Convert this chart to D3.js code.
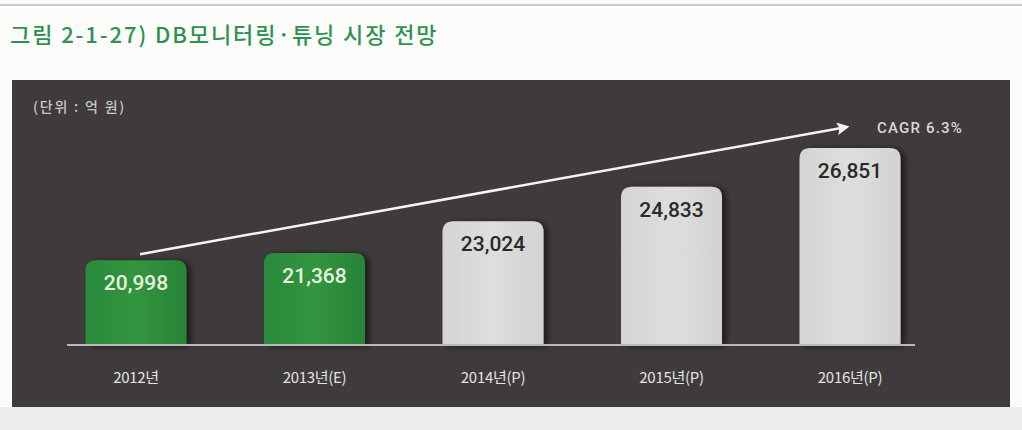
<!DOCTYPE html>
<html>
<head>
<meta charset="utf-8">
<script src="https://cdn.jsdelivr.net/npm/d3@7"></script>
<style>
  html, body { margin: 0; padding: 0; background: #f4f4f2; }
  svg { display: block; }
</style>
</head>
<body>
<div id="chart"></div>
<script>
const width = 1022;
const height = 430;

const years = ["2012년", "2013년(E)", "2014년(P)", "2015년(P)", "2016년(P)"];
const values = [20998, 21368, 23024, 24833, 26851];
const actual = [true, true, false, false, false];
const title = "그림 2-1-27) DB모니터링·튜닝 시장 전망";
const unitText = "(단위 : 억 원)";
const cagrText = "CAGR 6.3%";

const panel = { x: 12, y: 80, w: 998, h: 327 };
const baseY = 345;

const svg = d3
  .select("#chart")
  .append("svg")
  .attr("width", width)
  .attr("height", height);

const defs = svg.append("defs");

const shadow = defs.append("filter").attr("id", "shadow")
  .attr("x", "-20%").attr("y", "-20%").attr("width", "150%").attr("height", "140%");
shadow.append("feDropShadow")
  .attr("dx", 4).attr("dy", 1).attr("stdDeviation", 3)
  .attr("flood-color", "#000").attr("flood-opacity", 0.6);

const grayGrad = defs.append("linearGradient").attr("id", "grayGrad")
  .attr("x1", 0).attr("x2", 1).attr("y1", 0).attr("y2", 0);
grayGrad.append("stop").attr("offset", "0%").attr("stop-color", "#d4d4d4");
grayGrad.append("stop").attr("offset", "50%").attr("stop-color", "#dedede");
grayGrad.append("stop").attr("offset", "100%").attr("stop-color", "#d2d2d2");

const greenGrad = defs.append("linearGradient").attr("id", "greenGrad")
  .attr("x1", 0).attr("x2", 1).attr("y1", 0).attr("y2", 0);
greenGrad.append("stop").attr("offset", "0%").attr("stop-color", "#2a8a3c");
greenGrad.append("stop").attr("offset", "50%").attr("stop-color", "#32943f");
greenGrad.append("stop").attr("offset", "100%").attr("stop-color", "#288438");

defs.append("marker")
  .attr("id", "arrowHead")
  .attr("viewBox", "0 0 10 10")
  .attr("refX", 8).attr("refY", 5)
  .attr("markerWidth", 5).attr("markerHeight", 5)
  .attr("markerUnits", "strokeWidth")
  .attr("orient", "auto")
  .append("path")
  .attr("d", "M0,0 L10,5 L0,10 L2,5 Z")
  .attr("fill", "#f4f4f4");

// page background + top rule
svg.append("rect").attr("width", width).attr("height", height).attr("fill", "#fbfbfa");
svg.append("line")
  .attr("x1", 0).attr("x2", width).attr("y1", 5).attr("y2", 5)
  .attr("stroke", "#bdbdbd").attr("stroke-width", 1.5);
svg.append("rect")
  .attr("x", 0).attr("y", panel.y + panel.h).attr("width", width).attr("height", height - panel.y - panel.h)
  .attr("fill", "#ececea");

svg.append("text")
  .attr("x", 10).attr("y", 43)
  .attr("font-family", "'Noto Sans CJK KR', sans-serif")
  .attr("font-size", 22)
  .attr("font-weight", 500)
  .attr("letter-spacing", 1.9)
  .attr("fill", "#2f9150")
  .text(title);

svg.append("rect")
  .attr("x", panel.x).attr("y", panel.y).attr("width", panel.w).attr("height", panel.h)
  .attr("fill", "#3f3b3c");

svg.append("text")
  .attr("x", 33).attr("y", 112)
  .attr("font-family", "'Noto Sans CJK KR', sans-serif")
  .attr("font-size", 14)
  .attr("font-weight", 500)
  .attr("letter-spacing", 1.8)
  .attr("fill", "#c8c8c8")
  .text(unitText);

const x = d3.scaleBand()
  .domain(years)
  .range([46.75, 939.25])
  .paddingInner(0.434)
  .paddingOuter(0.217);

const y = d3.scaleLinear()
  .domain([16570, 26851])
  .range([baseY, 148]);

function topRounded(x0, y0, w, h, r) {
  return `M${x0},${y0 + h} V${y0 + r} Q${x0},${y0} ${x0 + r},${y0} H${x0 + w - r} Q${x0 + w},${y0} ${x0 + w},${y0 + r} V${y0 + h} Z`;
}

const data = years.map((d, i) => ({ year: d, value: values[i], actual: actual[i] }));

svg.append("g")
  .selectAll("path")
  .data(data)
  .join("path")
  .attr("d", (d) => topRounded(x(d.year), y(d.value), x.bandwidth(), baseY - y(d.value), 11))
  .attr("fill", (d) => (d.actual ? "url(#greenGrad)" : "url(#grayGrad)"))
  .attr("filter", "url(#shadow)");

svg.append("line")
  .attr("x1", 67).attr("x2", 915)
  .attr("y1", baseY).attr("y2", baseY)
  .attr("stroke", "#b9b9b9").attr("stroke-width", 2);

svg.append("g")
  .selectAll("text")
  .data(data)
  .join("text")
  .attr("x", (d) => x(d.year) + x.bandwidth() / 2)
  .attr("y", (d) => y(d.value) + 30)
  .attr("text-anchor", "middle")
  .attr("font-family", "Roboto, sans-serif")
  .attr("font-size", 21)
  .attr("font-weight", 500)
  .attr("fill", (d) => (d.actual ? "#e6f3dc" : "#2a2a2a"))
  .text((d) => d3.format(",")(d.value));

svg.append("g")
  .selectAll("text")
  .data(data)
  .join("text")
  .attr("x", (d) => x(d.year) + x.bandwidth() / 2)
  .attr("y", 383)
  .attr("text-anchor", "middle")
  .attr("font-family", "'Noto Sans CJK KR', sans-serif")
  .attr("font-size", 15)
  .attr("letter-spacing", -0.3)
  .attr("fill", "#e2e2e2")
  .text((d) => d.year);

// CAGR arrow
const first = data[0];
const last = data[data.length - 1];
svg.append("line")
  .attr("x1", x(first.year) + x.bandwidth() / 2 + 4)
  .attr("y1", y(first.value) - 6)
  .attr("x2", x(last.year) + x.bandwidth() / 2 - 3)
  .attr("y2", y(last.value) - 21)
  .attr("stroke", "#f4f4f4")
  .attr("stroke-width", 2.5)
  .attr("marker-end", "url(#arrowHead)");

svg.append("text")
  .attr("x", x(last.year) + x.bandwidth() / 2 + 27)
  .attr("y", y(last.value) - 15)
  .attr("font-family", "Roboto, sans-serif")
  .attr("font-size", 15)
  .attr("font-weight", 500)
  .attr("letter-spacing", 1.2)
  .attr("fill", "#d8d8d8")
  .text(cagrText);
</script>
</body>
</html>
